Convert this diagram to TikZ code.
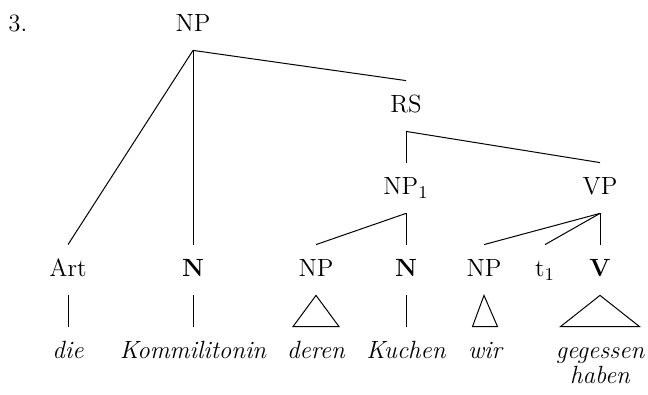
\documentclass[tikz,border=0pt]{standalone}
\begin{document}
\begin{tikzpicture}[x=0.5pt,y=-0.5pt,
  every node/.style={font=\fontsize{12.45}{12.5}\selectfont, inner xsep=0pt},
  cat/.style={anchor=base, text height=8.5pt, text depth=1.5pt, inner ysep=7.5pt},
  word/.style={anchor=base, text height=8.5pt, inner ysep=7pt, align=center,
    font=\fontsize{12.45}{12.5}\selectfont\itshape},
  branch/.style={line width=0.5pt}]
\useasboundingbox (0,0) rectangle (648,395);
% labels
\node[anchor=base west, inner sep=0pt] (ex) at (8,32) {3.};
\node[cat] (np0) at (193,32) {NP};
\node[cat] (rs) at (406,113) {RS};
\node[cat] (np1) at (406,195) {NP$_1$};
\node[cat] (vp) at (600,195) {VP};
\node[cat] (art) at (68,277) {Art};
\node[cat] (n1) at (193,277) {\textbf{N}};
\node[cat] (np2) at (316,277) {NP};
\node[cat] (n2) at (406,277) {\textbf{N}};
\node[cat] (np3) at (484,277) {NP};
\node[cat] (t) at (545,277) {t$_1$};
\node[cat] (v) at (600,277) {\textbf{V}};
% words
\node[word] (w1) at (68,358) {die};
\node[word] (w2) at (193,358) {Kommilitonin};
\node[word] (w3) at (316,358) {deren};
\node[word] (w4) at (406,358) {Kuchen};
\node[word] (w5) at (485,358) {wir};
\node[word, text height=21pt] (w6) at (600,383) {gegessen\\haben};
% branches
\draw[branch] (np0.south) -- (art.north);
\draw[branch] (np0.south) -- (n1.north);
\draw[branch] (np0.south) -- (rs.north);
\draw[branch] (rs.south) -- (np1.north);
\draw[branch] (rs.south) -- (vp.north);
\draw[branch] (np1.south) -- (np2.north);
\draw[branch] (np1.south) -- (n2.north);
\draw[branch] (vp.south) -- (np3.north);
\draw[branch] (vp.south) -- (t.north);
\draw[branch] (vp.south) -- (v.north);
\draw[branch] (art.south) -- (w1.north);
\draw[branch] (n1.south) -- (w2.north);
\draw[branch] (n2.south) -- (w4.north);
% triangles
\draw[branch] (np2.south) -- ([xshift=-11.5pt]w3.north) -- ([xshift=11.5pt]w3.north) -- cycle;
\draw[branch] (np3.south) -- ([xshift=-6.25pt]w5.north) -- ([xshift=6.25pt]w5.north) -- cycle;
\draw[branch] (v.south) -- ([xshift=-19.75pt]w6.north) -- ([xshift=19.75pt]w6.north) -- cycle;
\end{tikzpicture}
\end{document}
